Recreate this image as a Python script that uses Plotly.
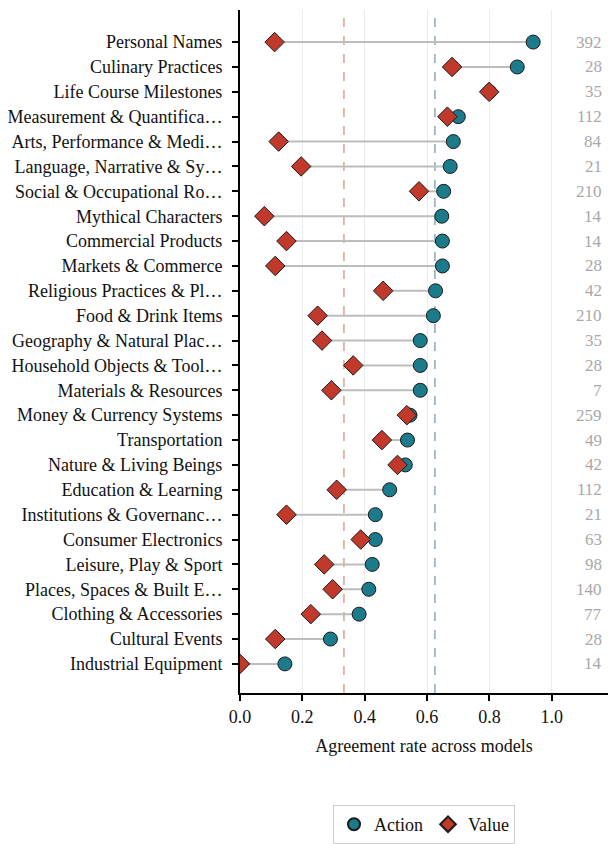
import plotly.graph_objects as go

categories = [
    "Personal Names", "Culinary Practices", "Life Course Milestones",
    "Measurement & Quantifica…", "Arts, Performance & Medi…",
    "Language, Narrative & Sy…", "Social & Occupational Ro…",
    "Mythical Characters", "Commercial Products", "Markets & Commerce",
    "Religious Practices & Pl…", "Food & Drink Items",
    "Geography & Natural Plac…", "Household Objects & Tool…",
    "Materials & Resources", "Money & Currency Systems", "Transportation",
    "Nature & Living Beings", "Education & Learning",
    "Institutions & Governanc…", "Consumer Electronics",
    "Leisure, Play & Sport", "Places, Spaces & Built E…",
    "Clothing & Accessories", "Cultural Events", "Industrial Equipment",
]
action = [0.940, 0.889, 0.800, 0.700, 0.684, 0.674, 0.653, 0.647, 0.649,
          0.649, 0.627, 0.620, 0.578, 0.578, 0.578, 0.545, 0.537, 0.530,
          0.480, 0.434, 0.434, 0.424, 0.413, 0.382, 0.290, 0.144]
value = [0.111, 0.680, 0.799, 0.665, 0.124, 0.196, 0.574, 0.078, 0.149,
         0.113, 0.459, 0.249, 0.263, 0.363, 0.293, 0.535, 0.455, 0.505,
         0.310, 0.149, 0.387, 0.270, 0.297, 0.227, 0.113, 0.000]
counts = [392, 28, 35, 112, 84, 21, 210, 14, 14, 28, 42, 210, 35, 28, 7,
          259, 49, 42, 112, 21, 63, 98, 140, 77, 28, 14]
chance_value = 1 / 3
mean_action = 0.625
x_ticks = [0.0, 0.2, 0.4, 0.6, 0.8, 1.0]

n = len(categories)
ypos = [n - 1 - i for i in range(n)]

FONT = "Liberation Serif"
TEAL = "#1b7b8b"
RED = "#c0392b"

lx, ly = [], []
for a, v, y in zip(action, value, ypos):
    lx += [v, a, None]
    ly += [y, y, None]

fig = go.Figure()
fig.add_trace(go.Scatter(x=lx, y=ly, mode="lines",
                         line=dict(color="#bdbdbd", width=2),
                         showlegend=False, hoverinfo="skip"))
fig.add_trace(go.Scatter(x=action, y=ypos, mode="markers", name="Action",
                         marker=dict(symbol="circle", size=14, color=TEAL,
                                     line=dict(color="#1a1a1a", width=1))))
fig.add_trace(go.Scatter(x=value, y=ypos, mode="markers", name="Value",
                         marker=dict(symbol="diamond", size=15, color=RED,
                                     line=dict(color="#1a1a1a", width=1))))

fig.add_shape(type="line", xref="x", yref="paper", x0=chance_value,
              x1=chance_value, y0=0, y1=1,
              line=dict(color="#d9a38e", width=1.5, dash="dash"), layer="below")
fig.add_shape(type="line", xref="x", yref="paper", x0=mean_action,
              x1=mean_action, y0=0, y1=1,
              line=dict(color="#8fa9b3", width=1.5, dash="dash"), layer="below")

for c, y in zip(counts, ypos):
    fig.add_annotation(x=1.168, y=y, xref="x", yref="y", text=str(c),
                       showarrow=False, xanchor="right", yanchor="middle",
                       font=dict(family=FONT, size=17, color="#a8a8a8"))

fig.update_layout(
    width=608, height=844,
    margin=dict(l=240, r=0, t=10, b=151),
    plot_bgcolor="white", paper_bgcolor="white",
    font=dict(family=FONT, size=18, color="#111111"),
    legend=dict(orientation="h", x=0.5, xanchor="center", xref="paper",
                yref="container", y=0.0, yanchor="bottom",
                bordercolor="#cccccc", borderwidth=1,
                font=dict(family=FONT, size=18), itemsizing="constant"),
    xaxis=dict(range=[0, 1.18], tickvals=x_ticks,
               ticktext=[f"{t:.1f}" for t in x_ticks],
               showgrid=True, gridcolor="#ececec", gridwidth=1,
               showline=True, linecolor="black", linewidth=2,
               ticks="outside", ticklen=6, tickwidth=1.5, tickcolor="black",
               zeroline=False, tickfont=dict(family=FONT, size=18),
               title=dict(text="Agreement rate across models",
                          font=dict(family=FONT, size=18), standoff=14)),
    yaxis=dict(range=[-1.17, n - 1 + 1.29], tickvals=ypos, ticktext=categories,
               showgrid=False, showline=True, linecolor="black", linewidth=2,
               ticks="outside", ticklen=6, tickwidth=1.5, tickcolor="black",
               ticklabelstandoff=6,
               zeroline=False, tickfont=dict(family=FONT, size=18)),
)

fig.write_html("out.html",
               config={"displayModeBar": False},
               post_script="document.body.style.margin='0';"
                           "document.body.style.overflow='hidden';")
